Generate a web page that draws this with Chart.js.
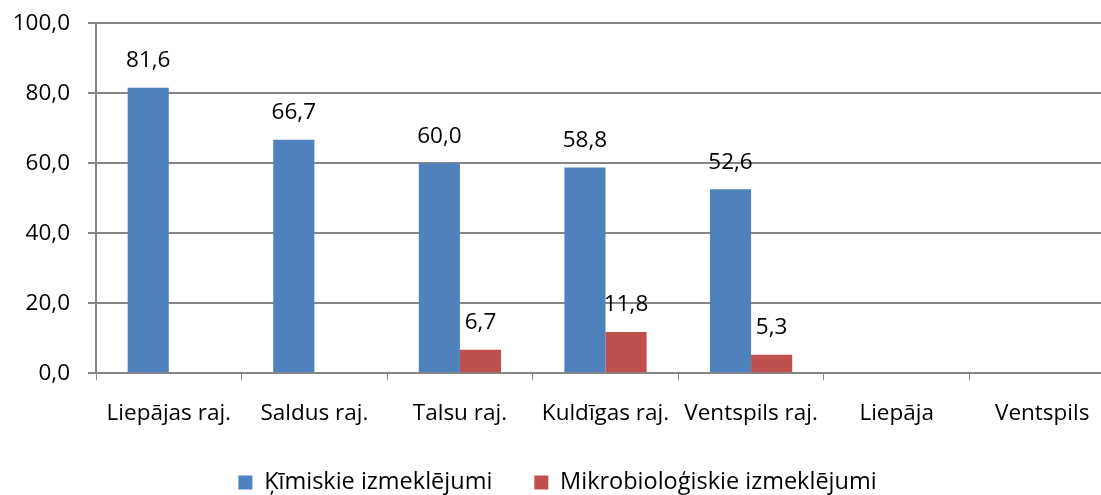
<!DOCTYPE html>
<html lang="lv">
<head>
  <meta charset="UTF-8">
  <title>Izmeklējumi pa rajoniem</title>
  <script src="https://cdn.jsdelivr.net/npm/chart.js"></script>
  <style>
    html, body { margin: 0; padding: 0; background: #fff; overflow: hidden; }
    #wrap { width: 1156px; height: 495px; }
  </style>
</head>
<body>
  <div id="wrap"><canvas id="chart"></canvas></div>

  <script>
  const categories = ['Liepājas raj.', 'Saldus raj.', 'Talsu raj.', 'Kuldīgas raj.', 'Ventspils raj.', 'Liepāja', 'Ventspils'];
  const kimiskie = [81.6, 66.7, 60.0, 58.8, 52.6, null, null];
  const mikrobiologiskie = [null, null, 6.7, 11.8, 5.3, null, null];
  const yTicks = [0, 20, 40, 60, 80, 100];

  const FONT = '"Open Sans", sans-serif';
  const SIZE = 22.5;
  const GRID = '#868686';
  const fmt = v => v.toFixed(1).replace('.', ',');

  // value labels above the bars (empty values get none)
  const barLabels = {
    id: 'barLabels',
    afterDatasetsDraw(chart) {
      const ctx = chart.ctx;
      ctx.save();
      ctx.font = SIZE + 'px ' + FONT;
      ctx.fillStyle = '#000';
      ctx.textAlign = 'center';
      ctx.textBaseline = 'middle';
      chart.data.datasets.forEach((ds, i) => {
        chart.getDatasetMeta(i).data.forEach((bar, j) => {
          if (ds.data[j] == null) return;
          ctx.fillText(fmt(ds.data[j]), bar.x, bar.y - 27);
        });
      });
      ctx.restore();
    }
  };

  new Chart(document.getElementById('chart'), {
    type: 'bar',
    data: {
      labels: categories,
      datasets: [
        { label: 'Ķīmiskie izmeklējumi', data: kimiskie, backgroundColor: '#4F81BD' },
        { label: 'Mikrobioloģiskie izmeklējumi', data: mikrobiologiskie, backgroundColor: '#C0504D' }
      ]
    },
    options: {
      responsive: true,
      maintainAspectRatio: false,
      animation: false,
      // plot runs past the right edge of the window, like the original
      layout: { padding: { top: 23.3, right: 41, left: 0, bottom: -9.25 } },
      datasets: { bar: { categoryPercentage: 0.565, barPercentage: 1.0 } },
      plugins: {
        tooltip: { enabled: false },
        legend: {
          position: 'bottom',
          labels: { font: { family: FONT, size: 23.5 }, color: '#000', boxWidth: 14, boxHeight: 14, padding: 42 }
        }
      },
      scales: {
        x: {
          grid: { drawOnChartArea: false, drawTicks: true, tickLength: 7, color: GRID, offset: true },
          border: { color: GRID, width: 2 },
          ticks: { font: { family: FONT, size: SIZE }, color: '#000', padding: 20, maxRotation: 0, autoSkip: false },
          afterFit(scale) { scale.height = 55.5; }
        },
        y: {
          min: 0, max: 100,
          afterBuildTicks(scale) { scale.ticks = yTicks.map(v => ({ value: v })); },
          grid: { color: GRID, lineWidth: 2, tickLength: 8 },
          border: { color: GRID, width: 2 },
          ticks: { font: { family: FONT, size: SIZE }, color: '#000', padding: 18, callback: v => fmt(v) },
          afterFit(scale) { scale.width = 96; scale.paddingTop = 0; scale.paddingBottom = 0; }
        }
      }
    },
    plugins: [barLabels]
  });
  </script>
</body>
</html>
